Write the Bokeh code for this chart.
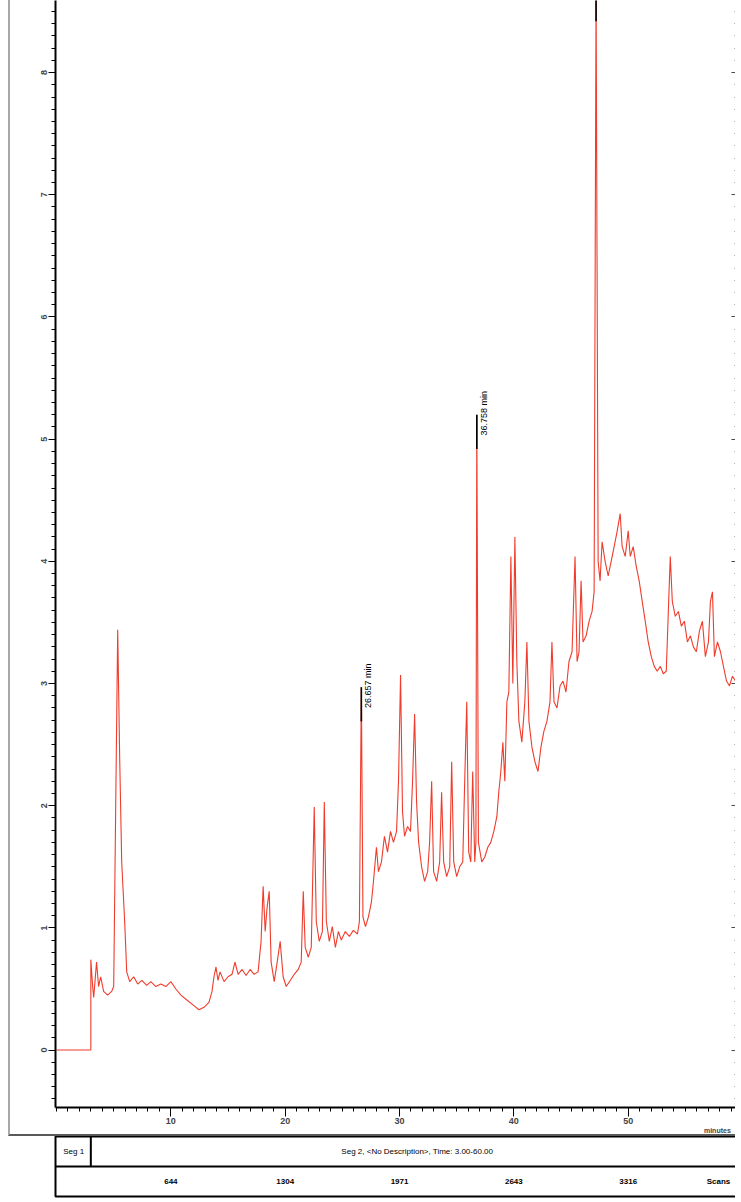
from math import pi
from bokeh.plotting import figure
from bokeh.models import Range1d, LinearAxis, FixedTicker, Span, ColumnDataSource
from bokeh.layouts import column
from bokeh.embed import file_html
from bokeh.resources import INLINE
from bokeh.core.properties import value

# ---------------- data ----------------
time_min = [
    0.0, 3.0, 3.0, 3.16, 3.25, 3.5, 3.68, 3.86, 4.12, 4.47,
    4.82, 5.0, 5.18, 5.35, 5.53, 5.7, 5.96, 6.14, 6.4, 6.75,
    7.1, 7.46, 7.89, 8.25, 8.68, 9.12, 9.56, 10.0, 10.44, 10.88,
    11.4, 11.93, 12.46, 12.9, 13.33, 13.6, 13.77, 13.95, 14.12, 14.3,
    14.65, 15.0, 15.35, 15.61, 15.88, 16.23, 16.58, 16.93, 17.28, 17.63,
    17.89, 18.07, 18.25, 18.42, 18.6, 18.77, 19.04, 19.3, 19.56, 19.82,
    20.09, 20.44, 20.79, 21.14, 21.4, 21.58, 21.75, 22.02, 22.28, 22.54,
    22.72, 22.98, 23.25, 23.42, 23.6, 23.86, 24.12, 24.39, 24.65, 24.91,
    25.26, 25.61, 25.96, 26.32, 26.49, 26.66, 26.8, 27.02, 27.28, 27.54,
    27.72, 27.98, 28.16, 28.42, 28.68, 28.95, 29.21, 29.47, 29.74, 29.91,
    30.09, 30.26, 30.44, 30.7, 30.96, 31.14, 31.32, 31.49, 31.67, 31.93,
    32.19, 32.46, 32.63, 32.81, 32.98, 33.25, 33.51, 33.68, 33.86, 34.12,
    34.39, 34.56, 34.74, 35.0, 35.26, 35.53, 35.7, 35.88, 36.05, 36.23,
    36.4, 36.58, 36.68, 36.76, 36.9, 37.19, 37.46, 37.72, 37.98, 38.25,
    38.51, 38.68, 38.86, 39.04, 39.21, 39.39, 39.56, 39.74, 39.91, 40.09,
    40.26, 40.44, 40.7, 40.96, 41.14, 41.32, 41.58, 41.84, 42.11, 42.37,
    42.63, 42.89, 43.16, 43.33, 43.51, 43.77, 44.04, 44.3, 44.56, 44.82,
    45.09, 45.35, 45.53, 45.7, 45.88, 46.05, 46.32, 46.58, 46.84, 47.02,
    47.19, 47.37, 47.54, 47.72, 47.98, 48.25, 48.51, 48.77, 49.04, 49.3,
    49.47, 49.74, 50.0, 50.18, 50.44, 50.7, 50.96, 51.23, 51.49, 51.75,
    52.02, 52.28, 52.54, 52.81, 53.07, 53.33, 53.51, 53.68, 53.86, 54.12,
    54.39, 54.65, 54.91, 55.18, 55.44, 55.7, 55.96, 56.23, 56.49, 56.75,
    57.02, 57.19, 57.37, 57.54, 57.81, 58.07, 58.33, 58.6, 58.86, 59.12,
    59.39, 59.65, 60.09,
]
signal = [
    0.0, 0.0, 0.74, 0.52, 0.43, 0.72, 0.52, 0.6, 0.48, 0.45,
    0.48, 0.52, 2.03, 3.44, 2.36, 1.54, 1.05, 0.64, 0.56, 0.6,
    0.54, 0.57, 0.53, 0.56, 0.52, 0.54, 0.52, 0.56, 0.5, 0.45,
    0.41, 0.37, 0.33, 0.35, 0.39, 0.48, 0.6, 0.68, 0.57, 0.64,
    0.56, 0.6, 0.62, 0.72, 0.62, 0.66, 0.61, 0.66, 0.62, 0.64,
    0.89, 1.34, 0.97, 1.17, 1.3, 0.72, 0.56, 0.72, 0.89, 0.6,
    0.52, 0.57, 0.62, 0.66, 0.72, 1.3, 0.84, 0.76, 0.84, 1.99,
    1.05, 0.89, 0.97, 2.03, 1.05, 0.89, 1.01, 0.84, 0.97, 0.9,
    0.97, 0.93, 0.98, 0.95, 1.05, 2.97, 1.09, 1.01, 1.09, 1.21,
    1.38, 1.66, 1.46, 1.54, 1.75, 1.62, 1.79, 1.7, 1.79, 2.2,
    3.07, 1.95, 1.75, 1.83, 1.79, 2.2, 2.75, 2.03, 1.7, 1.5,
    1.38, 1.46, 1.7, 2.2, 1.46, 1.38, 1.54, 2.11, 1.54, 1.42,
    1.5, 2.36, 1.54, 1.42, 1.5, 1.54, 2.2, 2.85, 1.62, 1.54,
    2.28, 1.54, 1.7, 5.2, 1.7, 1.54, 1.58, 1.66, 1.7, 1.79,
    1.91, 2.11, 2.28, 2.52, 2.2, 2.85, 2.93, 4.04, 3.0, 4.2,
    3.18, 2.69, 2.52, 2.85, 3.34, 2.69, 2.48, 2.36, 2.28, 2.48,
    2.61, 2.69, 2.85, 3.34, 2.85, 2.8, 2.98, 3.02, 2.93, 3.18,
    3.26, 4.04, 3.18, 3.26, 3.84, 3.34, 3.39, 3.51, 3.59, 3.75,
    8.7, 4.0, 3.84, 4.16, 4.0, 3.88, 4.0, 4.12, 4.25, 4.39,
    4.12, 4.04, 4.25, 4.04, 4.12, 3.96, 3.84, 3.67, 3.51, 3.34,
    3.22, 3.14, 3.1, 3.14, 3.08, 3.1, 3.59, 4.04, 3.67, 3.55,
    3.59, 3.47, 3.51, 3.34, 3.39, 3.3, 3.26, 3.43, 3.51, 3.22,
    3.34, 3.67, 3.75, 3.22, 3.34, 3.26, 3.14, 3.02, 2.98, 3.06,
    3.02, 3.1, 3.02,
]

marked_peak_times = [26.66, 36.76, 47.19]
marked_peak_heights = [2.97, 5.2, 8.7]
labeled_peak_times = [26.66, 36.76]
labeled_peak_heights = [2.97, 5.2]
labeled_peak_texts = ["26.657 min", "36.758 min"]

x_ticks = [10, 20, 30, 40, 50]
x_minor = list(range(0, 61))
x_unit_pos = 57.8
x_unit = "minutes"
y_ticks = [0, 1, 2, 3, 4, 5, 6, 7, 8]
y_tick_labels = ["0", "1", "2", "3", "4", "5", "6", "7", "8"]

seg_bounds = [0.0, 3.0, 60.1]
seg_names = ["Seg 1", "Seg 2, <No Description>, Time: 3.00-60.00"]
scan_ticks = [10, 20, 30, 40, 50]
scan_labels = ["644", "1304", "1971", "2643", "3316"]
scan_unit_pos = 57.9
scan_unit = "Scans"

FONT = "Liberation Sans"
TRACE = "#f03c2c"

# ---------------- main chromatogram ----------------
x_rng = Range1d(-0.09, 59.56)
y_rng = Range1d(-0.47, 8.59)

p = figure(frame_width=680, frame_height=1105, x_range=x_rng, y_range=y_rng,
           output_backend="svg", toolbar_location=None,
           x_axis_location=None, y_axis_location=None,
           min_border_left=45, min_border_right=0, min_border_top=0, min_border_bottom=28)
p.grid.visible = False
p.outline_line_color = None
p.background_fill_color = "white"
p.border_fill_color = "white"
p.styles = {"margin-left": "8px",
            "border-left": "2px solid #a8a8a8", "border-bottom": "2px solid #5a5a5a"}

y_minor = [round(-0.4 + 0.1 * i, 2) for i in range(90)]

xaxis = LinearAxis(ticker=FixedTicker(ticks=x_ticks, minor_ticks=x_minor))
xaxis.axis_line_width = 2
xaxis.major_tick_out = 9
xaxis.major_tick_in = 0
xaxis.minor_tick_out = 4
xaxis.minor_tick_in = 0
xaxis.major_label_standoff = 1
xaxis.major_label_text_font = FONT
xaxis.major_label_text_font_size = "9px"
xaxis.major_label_text_font_style = "bold"
p.add_layout(xaxis, "below")

uaxis = LinearAxis(ticker=FixedTicker(ticks=[x_unit_pos], minor_ticks=[]))
uaxis.major_label_overrides = {x_unit_pos: x_unit}
uaxis.axis_line_color = None
uaxis.major_tick_line_color = None
uaxis.minor_tick_line_color = None
uaxis.major_tick_out = 0
uaxis.major_tick_in = 0
uaxis.major_label_standoff = 0
uaxis.major_label_text_font = FONT
uaxis.major_label_text_font_size = "7px"
uaxis.major_label_text_font_style = "bold"
p.add_layout(uaxis, "below")

yaxis = LinearAxis(ticker=FixedTicker(ticks=y_ticks, minor_ticks=y_minor))
yaxis.major_label_overrides = {t: l for t, l in zip(y_ticks, y_tick_labels)}
yaxis.axis_line_width = 2
yaxis.major_tick_out = 7
yaxis.major_tick_in = 0
yaxis.minor_tick_out = 4
yaxis.minor_tick_in = 0
yaxis.major_label_orientation = "vertical"
yaxis.major_label_standoff = 1
yaxis.major_label_text_font = FONT
yaxis.major_label_text_font_size = "9px"
yaxis.major_label_text_font_style = "bold"
p.add_layout(yaxis, "left")

raxis = LinearAxis(ticker=FixedTicker(ticks=y_ticks, minor_ticks=y_minor))
raxis.major_label_overrides = {t: "" for t in y_ticks}
raxis.axis_line_color = "#777777"
raxis.major_tick_in = 6
raxis.major_tick_out = 0
raxis.minor_tick_in = 3
raxis.minor_tick_out = 0
raxis.major_tick_line_color = "#444444"
raxis.minor_tick_line_color = "#666666"
raxis.major_label_standoff = 0
p.add_layout(raxis, "right")

p.line(time_min, signal, line_color=TRACE, line_width=1.1)

p.segment(x0=marked_peak_times, y0=[h - 0.28 for h in marked_peak_heights],
          x1=marked_peak_times, y1=marked_peak_heights,
          line_color="black", line_width=1.6)

lab_src = ColumnDataSource(dict(x=labeled_peak_times,
                                y=[h - 0.17 for h in labeled_peak_heights],
                                t=labeled_peak_texts))
p.text(x="x", y="y", text="t", source=lab_src, angle=pi / 2,
       text_align="left", text_baseline="top", x_offset=2,
       text_font=value(FONT), text_font_size="9px", text_color="black")

# ---------------- segment / scan bar ----------------
s = figure(frame_width=680, frame_height=60, x_range=x_rng, y_range=Range1d(0, 2),
           output_backend="svg", toolbar_location=None,
           x_axis_location=None, y_axis_location=None,
           min_border_left=45, min_border_right=0, min_border_top=0, min_border_bottom=2)
s.grid.visible = False
s.styles = {"margin-left": "8px", "border-left": "2px solid transparent"}
s.outline_line_color = "black"
s.outline_line_width = 2
s.background_fill_color = "white"
s.add_layout(Span(location=1, dimension="width", line_color="black", line_width=2))
s.segment(x0=[seg_bounds[1]], y0=[1], x1=[seg_bounds[1]], y1=[2],
          line_color="black", line_width=2)

seg_mid = [(seg_bounds[0] + seg_bounds[1]) / 2, (seg_bounds[1] + seg_bounds[2]) / 2]
s.text(x=seg_mid, y=[1.5, 1.5], text=seg_names, text_align="center",
       text_baseline="middle", text_font=value(FONT), text_font_size="8px",
       text_color="black")
s.text(x=scan_ticks + [scan_unit_pos], y=[0.5] * (len(scan_ticks) + 1),
       text=scan_labels + [scan_unit], text_align="center", text_baseline="middle",
       text_font=value(FONT), text_font_size="8px", text_font_style="bold",
       text_color="black")

layout = column(p, s, spacing=0)
open("out.html", "w").write(file_html(layout, INLINE))
